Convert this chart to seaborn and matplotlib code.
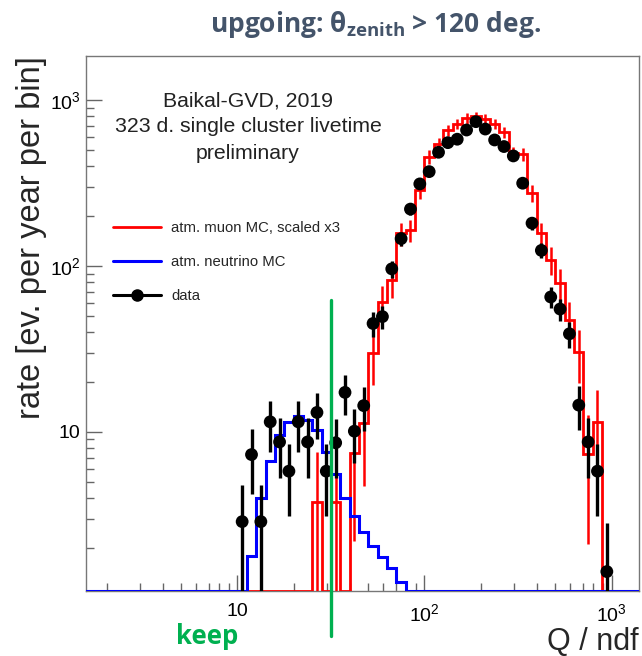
import numpy as np
import matplotlib
matplotlib.use("Agg")
import matplotlib.pyplot as plt
import matplotlib.transforms as mtransforms
from matplotlib.lines import Line2D
import seaborn as sns

# ---------------- data ----------------
# binning: 20 log-bins per decade
bin_log_start = 0.15
bin_log_step = 0.05
n_bins = 62

# data points (ev. per year per bin), first bin starts at 10^1.00
data_log_start = 1.00
data_values = [2.88, 7.3, 2.88, 11.5, 8.7, 5.8, 11.5, 8.7, 13.1, 5.8,
               8.6, 17.3, 10.1, 14.4, 45, 49.5, 96, 146, 220, 312,
               370, 484, 553, 580, 659, 740, 668, 574, 524, 460,
               315, 181, 124, 65, 55, 39, 14.5, 8.7, 5.8, 1.44]
data_errors = [1.9, 3.1, 1.9, 3.9, 3.4, 2.7, 3.9, 3.4, 4.1, 2.7,
               3.3, 4.7, 3.6, 4.3, 7.6, 8.0, 11.2, 13.8, 16.9, 20.1,
               21.9, 25.1, 26.8, 27.5, 29.3, 31.0, 29.5, 27.3, 26.1, 24.5,
               20.2, 15.3, 12.7, 9.2, 8.5, 7.1, 4.3, 3.4, 2.7, 1.4]

# atm. neutrino MC, first bin starts at 10^1.05
nu_log_start = 1.05
nu_values = [1.8, 4.0, 6.7, 9.6, 11.5, 12.5, 11.8, 10.3, 7.6, 5.6,
             4.0, 3.1, 2.5, 2.04, 1.77, 1.51, 1.24]

# atm. muon MC scaled x3, first bin starts at 10^1.40
mu_log_start = 1.40
mu_values = [3.8, 0, 3.8, 0, 7.5, 11.3, 30, 61, 82, 157,
             165, 287, 455, 545, 660, 720, 775, 795, 770, 720,
             640, 478, 470, 274, 157, 109, 79, 47, 30.5, 7.4,
             11.4, 0]
mu_errors = [3.8, 0, 3.8, 0, 5.3, 6.6, 10.7, 15.2, 17.7, 24.4,
             25.0, 33.0, 41.6, 45.5, 50.0, 52.0, 54.0, 55.0, 54.0, 52.0,
             49.0, 42.6, 42.0, 32.0, 24.4, 20.4, 17.3, 13.4, 10.8, 5.3,
             6.6, 0]

x_ticks = [10, 100, 1000]
x_tick_labels = ["10", r"$10^{2}$", r"$10^{3}$"]
y_ticks = [10, 100, 1000]
y_tick_labels = ["10", r"$10^{2}$", r"$10^{3}$"]

legend_labels = ["atm. muon MC, scaled x3", "atm. neutrino MC", "data"]
annotation = "Baikal-GVD, 2019\n323 d. single cluster livetime\npreliminary"
cut_value = 10 ** 1.5

x_lim = (10 ** 0.19, 10 ** 3.147)
y_lim = (1.10, 1840)

# ---------------- helpers ----------------
edges = 10 ** (bin_log_start + bin_log_step * np.arange(n_bins + 1))
centers = np.sqrt(edges[:-1] * edges[1:])


def full(values, log_start):
    arr = np.zeros(n_bins)
    i0 = int(round((log_start - bin_log_start) / bin_log_step))
    arr[i0:i0 + len(values)] = values
    return arr


def sub_centers(n, log_start):
    i0 = int(round((log_start - bin_log_start) / bin_log_step))
    return centers[i0:i0 + n]


# ---------------- style ----------------
sns.set_style("white")
plt.rcParams["font.family"] = ["Liberation Sans", "DejaVu Sans"]
plt.rcParams["mathtext.fontset"] = "custom"
plt.rcParams["mathtext.rm"] = "Liberation Sans"
plt.rcParams["mathtext.it"] = "Liberation Sans:italic"
plt.rcParams["mathtext.bf"] = "Open Sans:bold"

fig = plt.figure(figsize=(6.42, 6.56), dpi=100)
ax = fig.add_axes([86 / 642, 65 / 656, 553 / 642, 535 / 656])
ax.set_xscale("log")
ax.set_yscale("log")
ax.set_xlim(*x_lim)
ax.set_ylim(*y_lim)

floor = y_lim[0] * 1.005

mu_full = full(mu_values, mu_log_start)
nu_full = full(nu_values, nu_log_start)

ax.stairs(np.maximum(mu_full, floor), edges, color="#ff0000", lw=2.0, zorder=3)
# muon MC error bars
mu_c = sub_centers(len(mu_values), mu_log_start)
mu_v = np.array(mu_values, dtype=float)
mu_e = np.array(mu_errors, dtype=float)
m = mu_v > 0
ax.errorbar(mu_c[m], mu_v[m], yerr=[np.minimum(mu_e[m], mu_v[m] - floor * 0.5), mu_e[m]],
            fmt="none", ecolor="#ff0000", elinewidth=1.8, capsize=0, zorder=3)

ax.stairs(np.maximum(nu_full, floor), edges, color="#0000ff", lw=2.2, zorder=4)

# data
d_c = sub_centers(len(data_values), data_log_start)
d_v = np.array(data_values, dtype=float)
d_e = np.array(data_errors, dtype=float)
ax.errorbar(d_c, d_v, yerr=[np.minimum(d_e, d_v - floor * 0.5), d_e],
            fmt="none", ecolor="black", elinewidth=2.4, capsize=0, zorder=5)
sns.scatterplot(x=d_c, y=d_v, ax=ax, color="black", s=85, edgecolor="none",
                zorder=6, legend=False)

# ticks / spines
for sp in ax.spines.values():
    sp.set_visible(True)
    sp.set_color("#777777")
    sp.set_linewidth(1.0)
ax.tick_params(axis="both", which="both", direction="in", colors="#666666",
               bottom=True, left=True, top=False, right=False,
               labelcolor="black")
ax.tick_params(axis="both", which="major", length=11.5, width=1.0, labelsize=14)
ax.tick_params(axis="both", which="minor", length=5.5, width=1.0)
ax.tick_params(axis="x", which="major", pad=9)
ax.tick_params(axis="y", which="major", pad=4)
ax.set_xticks(x_ticks)
ax.set_xticklabels(x_tick_labels)
ax.set_yticks(y_ticks)
ax.set_yticklabels(y_tick_labels)

ax.set_ylabel("rate [ev. per year per bin]", fontsize=23.5, loc="top", labelpad=2)
ax.set_xlabel("Q / ndf", fontsize=22, loc="right", labelpad=1)

# annotation
ax.text((248 - 86) / 553, (591 - 127) / 535, annotation, transform=ax.transAxes,
        ha="center", va="center", multialignment="center", fontsize=15.3,
        linespacing=1.48, color="#222222")

# legend
handles = [Line2D([], [], color="#ff0000", lw=2.0),
           Line2D([], [], color="#0000ff", lw=2.2),
           Line2D([], [], color="black", lw=2.2, marker="o", markersize=8)]
ax.legend(handles, legend_labels, loc="upper left",
          bbox_to_anchor=((113 - 86) / 553, (591 - 221) / 535),
          frameon=False, fontsize=10.7, handlelength=3.2, handletextpad=0.7,
          labelspacing=1.35, borderpad=0, borderaxespad=0)

# cut line
trans = mtransforms.blended_transform_factory(ax.transData, ax.transAxes)
ax.plot([cut_value, cut_value], [(591 - 300) / 535, (591 - 636) / 535],
        transform=trans, color="#00b050", lw=2.4, clip_on=False, zorder=7)

# titles
fig.text(376 / 642, (656 - 24) / 656, r"upgoing: $\mathbf{\theta_{zenith}}$ > 120 deg.",
         ha="center", va="center", fontsize=19, fontweight="bold",
         family="Open Sans", color="#44546a")
fig.text(207 / 642, (656 - 636) / 656, "keep", ha="center", va="center",
         fontsize=18.5, fontweight="bold", family="Open Sans", color="#00b050")

fig.savefig("out.png", dpi=100)
